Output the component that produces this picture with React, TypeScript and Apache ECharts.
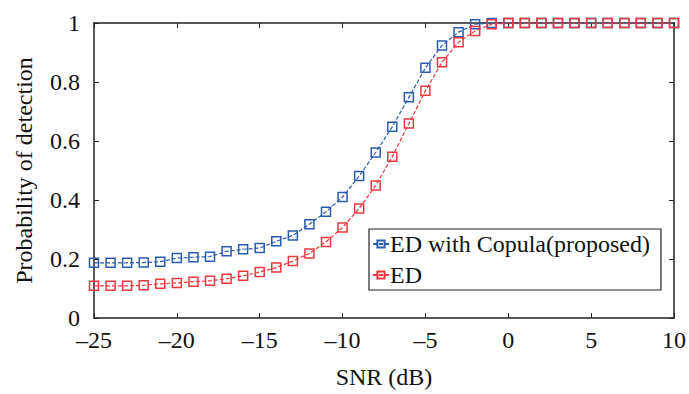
import React, { useEffect, useRef } from "react";
import * as echarts from "echarts";

const snr = [-25, -24, -23, -22, -21, -20, -19, -18, -17, -16, -15, -14, -13, -12, -11, -10, -9, -8, -7, -6, -5, -4, -3, -2, -1, 0, 1, 2, 3, 4, 5, 6, 7, 8, 9, 10];
const copula = [0.187, 0.187, 0.187, 0.188, 0.191, 0.203, 0.206, 0.208, 0.226, 0.233, 0.237, 0.26, 0.28, 0.318, 0.36, 0.41, 0.481, 0.561, 0.648, 0.748, 0.848, 0.924, 0.969, 0.996, 1, 1, 1, 1, 1, 1, 1, 1, 1, 1, 1, 1];
const ed = [0.109, 0.109, 0.109, 0.111, 0.116, 0.119, 0.123, 0.126, 0.133, 0.143, 0.156, 0.171, 0.193, 0.219, 0.258, 0.307, 0.371, 0.449, 0.547, 0.659, 0.77, 0.867, 0.935, 0.973, 0.996, 1, 1, 1, 1, 1, 1, 1, 1, 1, 1, 1];
const seriesNames = ["ED with Copula(proposed)", "ED"];
const colors = ["#2a5cae", "#ec383e"];

export default function App() {
  const ref = useRef<HTMLDivElement>(null);
  useEffect(() => {
    const chart = echarts.init(ref.current!, null, { renderer: "svg" });
    const font = "Liberation Serif";
    const axisLine = { show: true, onZero: false, lineStyle: { color: "#222", width: 1.5 } };
    const fmt = (v: number) => String(v).replace("-", "–");
    const mk = (name: string, data: number[], color: string) => ({
      name,
      type: "line",
      data: snr.map((x, i) => [x, data[i]]),
      symbol: "rect",
      symbolSize: 9,
      itemStyle: { color: "rgba(255,255,255,0)", borderColor: color, borderWidth: 1.5 },
      lineStyle: { color, width: 1.2, type: [4, 2] },
      z: 3,
    });
    chart.setOption({
      animation: false,
      backgroundColor: "#fff",
      grid: { left: 94, right: 10, top: 23, bottom: 72, containLabel: false },
      legend: {
        orient: "vertical",
        left: 369,
        top: 229,
        padding: [3, 11, 3, 3],
        itemGap: 7,
        itemWidth: 16,
        itemHeight: 9,
        borderColor: "#222",
        borderWidth: 1.2,
        backgroundColor: "#fff",
        textStyle: { fontFamily: font, fontSize: 24, color: "#111", padding: [0, 0, 0, -4] },
        data: seriesNames,
      },
      xAxis: [
        {
          type: "value",
          min: -25,
          max: 10,
          interval: 5,
          name: "SNR (dB)",
          nameLocation: "middle",
          nameGap: 47,
          nameTextStyle: { fontFamily: font, fontSize: 24, color: "#111" },
          axisLine,
          axisTick: { inside: true, length: 5, lineStyle: { color: "#222" } },
          axisLabel: { fontFamily: font, fontSize: 24, color: "#111", margin: 10, formatter: fmt },
          splitLine: { show: false },
        },
        {
          type: "value",
          position: "top",
          min: -25,
          max: 10,
          interval: 5,
          axisLine,
          axisTick: { inside: true, length: 5, lineStyle: { color: "#222" } },
          axisLabel: { show: false },
          splitLine: { show: false },
        },
      ],
      yAxis: [
        {
          type: "value",
          min: 0,
          max: 1,
          interval: 0.2,
          name: "Probability of detection",
          nameLocation: "middle",
          nameGap: 58,
          nameTextStyle: { fontFamily: font, fontSize: 24, color: "#111" },
          axisLine,
          axisTick: { show: true, inside: true, length: 5, lineStyle: { color: "#222" } },
          axisLabel: { fontFamily: font, fontSize: 24, color: "#111", margin: 14, formatter: (v: number) => String(Math.round(v * 10) / 10) },
          splitLine: { show: false },
        },
        {
          type: "value",
          position: "right",
          min: 0,
          max: 1,
          interval: 0.2,
          axisLine,
          axisTick: { show: true, inside: true, length: 5, lineStyle: { color: "#222" } },
          axisLabel: { show: false },
          splitLine: { show: false },
        },
      ],
      series: [mk(seriesNames[0], copula, colors[0]), mk(seriesNames[1], ed, colors[1])],
    });
    return () => chart.dispose();
  }, []);
  return <div ref={ref} style={{ width: 689, height: 394, position: "absolute", left: 0, top: 0 }} />;
}
